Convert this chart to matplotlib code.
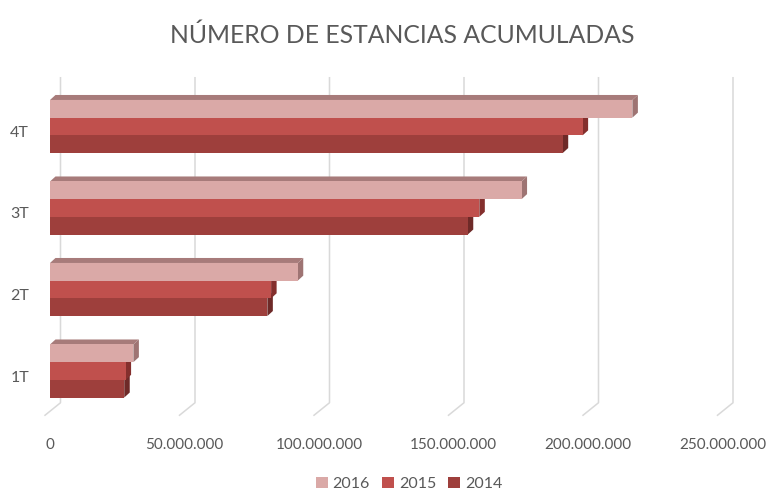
import matplotlib
matplotlib.use('Agg')
import matplotlib.pyplot as plt
import matplotlib.transforms as mtransforms
from matplotlib.patches import Polygon, Patch
from matplotlib.lines import Line2D

# Data ---
quarters = ['1T', '2T', '3T', '4T']
years = ['2014', '2015', '2016']
stays_2014 = [27.6e6, 80.8e6, 155.3e6, 190.6e6]
stays_2015 = [28.1e6, 82.2e6, 159.6e6, 198.0e6]
stays_2016 = [31.0e6, 92.1e6, 175.3e6, 216.5e6]
x_ticks = [0, 50e6, 100e6, 150e6, 200e6, 250e6]

# Style ---
plt.rcParams['font.family'] = ['Lato', 'DejaVu Sans']
TXT = '#595959'
GRID = '#D9D9D9'
front_cols = {'2014': '#9E3F3C', '2015': '#C0504D', '2016': '#DAA9A7'}
side_cols = {'2014': '#6E2A28', '2015': '#842F2D', '2016': '#9E7473'}
top_cols = {'2014': '#7A2E2C', '2015': '#93403D', '2016': '#A77B7A'}
series = {'2014': stays_2014, '2015': stays_2015, '2016': stays_2016}
offsets = {'2014': -1, '2015': 0, '2016': 1}

W, H = 766, 491
fig = plt.figure(figsize=(W / 100, H / 100), dpi=100)
ax_l, ax_b, ax_w, ax_h = 50, 411.75, 672.5, 326
ax = fig.add_axes([ax_l / W, 1 - ax_b / H, ax_w / W, ax_h / H])
ax.set_xlim(0, 250e6)
ax.set_ylim(-0.5, 3.5)

# pixel -> data units
ux = 250e6 / ax_w
uy = 4 / ax_h

bar_h = 0.217
dx, dy = 5.5 * ux, 5 * uy

# gridlines (back wall + floor diagonal)
for v in x_ticks:
    xs = [v + 10.5 * ux, v + 10.5 * ux, v - 5 * ux]
    ys = [3.5 + 8 * uy, -0.5 + 9 * uy, -0.5 - 3.5 * uy]
    ax.add_line(Line2D(xs, ys, color=GRID, lw=1.1, clip_on=False, zorder=0))

# bars, bottom to top so faces overlap properly
for yr in years:
    vals = series[yr]
    for k, v in enumerate(vals):
        y0 = k + offsets[yr] * bar_h - bar_h / 2
        y1 = y0 + bar_h
        side = Polygon([(v, y0), (v + dx, y0 + dy), (v + dx, y1 + dy), (v, y1)],
                       closed=True, fc=side_cols[yr], ec='none', zorder=2, clip_on=False)
        top = Polygon([(0, y1), (dx, y1 + dy), (v + dx, y1 + dy), (v, y1)],
                      closed=True, fc=top_cols[yr], ec='none', zorder=2, clip_on=False)
        ax.add_patch(side)
        ax.add_patch(top)
    ax.barh([k + offsets[yr] * bar_h for k in range(len(quarters))], vals, height=bar_h,
            color=front_cols[yr], edgecolor='none', zorder=3)

for s in ax.spines.values():
    s.set_visible(False)
ax.set_xticks(x_ticks)
ax.set_xticklabels(['{:,.0f}'.format(v).replace(',', '.') for v in x_ticks],
                   fontsize=11, color=TXT)
ax.set_yticks(range(len(quarters)))
ax.set_yticklabels(quarters, fontsize=11.5, color=TXT)
ax.tick_params(axis='x', length=0, pad=19)
ax.tick_params(axis='y', length=0, pad=15)
for lab in ax.get_yticklabels():
    lab.set_transform(lab.get_transform() + mtransforms.ScaledTranslation(0, -5 / 100, fig.dpi_scale_trans))

fig.text(402.5 / W, 1 - 43 / H, 'NÚMERO DE ESTANCIAS ACUMULADAS', ha='center', va='baseline',
         fontsize=17.8, color=TXT)

handles = [Patch(fc=front_cols[y], ec='none') for y in ['2016', '2015', '2014']]
leg = fig.legend(handles, ['2016', '2015', '2014'], loc='center', bbox_to_anchor=(409 / W, 1 - 484 / H),
                 ncol=3, frameon=False, fontsize=11.5, handlelength=0.75, handleheight=0.75,
                 handletextpad=0.3, columnspacing=0.75)
for t in leg.get_texts():
    t.set_color(TXT)

fig.savefig('out.png', dpi=100)
